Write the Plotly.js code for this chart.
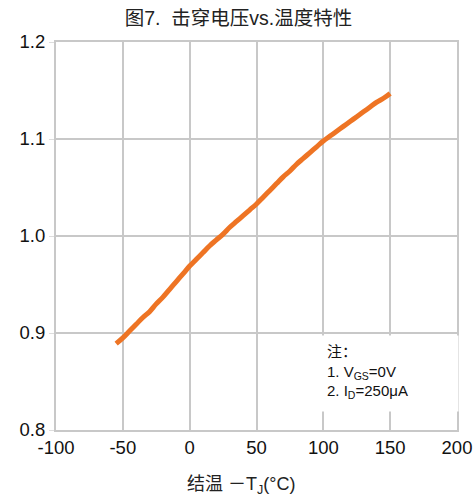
<!DOCTYPE html>
<html><head><meta charset="utf-8">
<script src="https://cdn.plot.ly/plotly-3.0.1.min.js"></script>
<style>html,body{margin:0;padding:0;background:#fff}#chart{width:473px;height:504px}</style>
</head><body><div id="chart"></div>
<script>
const temperature = [-55, -50, -45, -40, -35, -30, -25, -20, -15, -10, -5, 0, 5, 10, 15, 20, 25, 30, 35, 40, 45, 50, 55, 60, 65, 70, 75, 80, 85, 90, 95, 100, 105, 110, 115, 120, 125, 130, 135, 140, 145, 150];
const bvNormalized = [0.889, 0.895, 0.902, 0.909, 0.916, 0.922, 0.930, 0.937, 0.945, 0.953, 0.961, 0.969, 0.976, 0.983, 0.990, 0.996, 1.002, 1.009, 1.015, 1.021, 1.027, 1.033, 1.040, 1.047, 1.054, 1.061, 1.067, 1.074, 1.080, 1.086, 1.092, 1.098, 1.103, 1.108, 1.113, 1.118, 1.123, 1.128, 1.133, 1.138, 1.142, 1.147];
const xTicks = [-100, -50, 0, 50, 100, 150, 200];
const yTicks = [0.8, 0.9, 1.0, 1.1, 1.2];
const yTickLabels = ['0.8', '0.9', '1.0', '1.1', '1.2'];
const titleText = '图7.  击穿电压vs.温度特性';
const xTitleText = '结温 －T<sub>J</sub>(°C)';
const noteText = '注：<br>1. V<sub>GS</sub>=0V<br>2. I<sub>D</sub>=250μA';

const grid = '#c8c8c8';
const latin = '"Liberation Sans", Arial, sans-serif';
const cjk = '"Liberation Sans", "Noto Sans CJK SC", sans-serif';

Plotly.newPlot('chart', [{
  x: temperature, y: bvNormalized, type: 'scatter', mode: 'lines',
  line: {color: '#EE7424', width: 5, shape: 'spline'}, hoverinfo: 'skip'
}], {
  width: 473, height: 504,
  margin: {l: 56, r: 16, t: 42, b: 74},
  paper_bgcolor: '#fff', plot_bgcolor: '#fff',
  showlegend: false,
  title: {text: titleText, font: {family: cjk, size: 19.5, color: '#222'}, xref: 'paper', x: 0.455, xanchor: 'center', y: 0.964, yanchor: 'middle'},
  xaxis: {
    range: [-100, 200], tickvals: xTicks, ticktext: xTicks.map(String),
    showgrid: true, gridcolor: grid, gridwidth: 2,
    showline: true, linecolor: grid, linewidth: 2, mirror: true,
    zeroline: false, ticks: '',
    tickfont: {family: latin, size: 18.5, color: '#111'}
  },
  yaxis: {
    range: [0.8, 1.2], tickvals: yTicks, ticktext: yTickLabels,
    showgrid: true, gridcolor: grid, gridwidth: 2,
    showline: true, linecolor: grid, linewidth: 2, mirror: true,
    zeroline: false, ticks: 'outside', ticklen: 5, tickcolor: '#dddddd',
    tickfont: {family: latin, size: 18.5, color: '#111'}
  },
  annotations: [{
    xref: 'x', yref: 'y', x: 96, y: 0.8975, xanchor: 'left', yanchor: 'top',
    width: 139, height: 75, borderpad: 0, text: ' ', showarrow: false,
    bgcolor: '#fff', font: {family: latin, size: 10, color: '#fff'}
  }, {
    xref: 'x', yref: 'y', x: 101.2, y: 0.8916, xanchor: 'left', yanchor: 'top',
    text: noteText, showarrow: false, align: 'left',
    font: {family: cjk, size: 15, color: '#111'}
  }, {
    xref: 'paper', yref: 'paper', x: 0.461, y: -0.142, xanchor: 'center', yanchor: 'middle',
    text: xTitleText, showarrow: false, font: {family: cjk, size: 18, color: '#222'}
  }, {
    xref: 'paper', yref: 'paper', x: 1.035, y: 1.07, xanchor: 'left', yanchor: 'middle',
    text: 'F', showarrow: false, font: {family: latin, size: 15, color: '#222'}
  }]
}, {displayModeBar: false, staticPlot: true});
</script></body></html>
